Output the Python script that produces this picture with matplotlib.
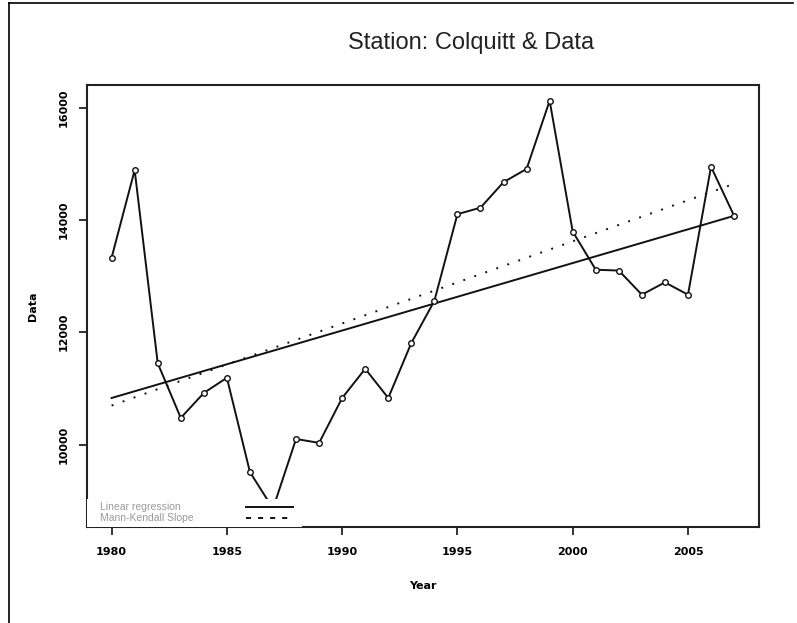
import matplotlib
matplotlib.use("Agg")
import matplotlib.pyplot as plt
from matplotlib.lines import Line2D
from matplotlib.patches import Rectangle

# values
years = list(range(1980, 2008))
data = [13330, 14890, 11450, 10475, 10920, 11190, 9510, 8860, 10100, 10030,
        10830, 11350, 10830, 11810, 12560, 14105, 14220, 14675, 14910, 16125,
        13795, 13115, 13100, 12670, 12890, 12670, 14950, 14075]

# trend line end points (year, value)
lin_x = [1980, 2007]
lin_y = [10830, 14075]
mk_x = [1980, 2007]
mk_y = [10695, 14645]

yticks = [10000, 12000, 14000, 16000]
xticks = [1980, 1985, 1990, 1995, 2000, 2005]

fig = plt.figure(figsize=(7.97, 6.23), dpi=100)
ax = fig.add_axes([0.1088, 0.1533, 0.9523 - 0.1088, 0.8636 - 0.1533])

ax.plot(years, data, color="#111111", lw=1.4, marker="o", ms=4,
        mfc="white", mec="#111111", mew=1.0, zorder=3)
ax.plot(lin_x, lin_y, color="#111111", lw=1.4, zorder=2)
ax.plot(mk_x, mk_y, color="#111111", lw=1.4, linestyle=(0, (1, 5)), zorder=2)

# R style 4% padding on x
span = years[-1] - years[0]
ax.set_xlim(years[0] - 0.04 * span, years[-1] + 0.04 * span)
ax.set_ylim(8523, 16406)

ax.set_xticks(xticks)
ax.set_yticks(yticks)
ax.set_xticklabels([str(t) for t in xticks], fontsize=8, fontweight="bold")
ax.set_yticklabels([str(t) for t in yticks], fontsize=8, fontweight="bold",
                   rotation=90, va="center")
ax.tick_params(axis="both", direction="out", length=6, width=1.3, color="#222222")
ax.tick_params(axis="x", pad=8)
ax.tick_params(axis="y", pad=7)
for s in ax.spines.values():
    s.set_linewidth(1.5)
    s.set_color("#222222")

ax.set_xlabel("Year", fontsize=8, fontweight="bold", labelpad=17)
ax.set_ylabel("Data", fontsize=8, fontweight="bold", labelpad=15)

fig.text(0.591, 0.931, "Station: Colquitt & Data", ha="center", va="center",
         fontsize=17, family="Liberation Sans", color="#222222")

# legend: white box, gray text, line samples off to the right
ax.add_patch(Rectangle((0.0, 0.0), 0.32, 0.064, transform=ax.transAxes,
                       facecolor="white", edgecolor="none", zorder=4))
ax.text(0.02, 0.046, "Linear regression", transform=ax.transAxes, fontsize=7.5,
        color="#999999", va="center", family="Liberation Sans", zorder=5)
ax.text(0.02, 0.0215, "Mann-Kendall Slope", transform=ax.transAxes, fontsize=7.5,
        color="#999999", va="center", family="Liberation Sans", zorder=5)
ax.add_line(Line2D([0.237, 0.307], [0.046, 0.046], transform=ax.transAxes,
                   color="#111111", lw=1.4, zorder=5))
ax.add_line(Line2D([0.237, 0.307], [0.0215, 0.0215], transform=ax.transAxes,
                   color="#111111", lw=1.4, linestyle=(0, (2.6, 3.6)), zorder=5))

# outer frame of the picture
fig.add_artist(Line2D([0.011, 0.011], [0.0, 0.995], transform=fig.transFigure,
                      color="black", lw=1.2))
fig.add_artist(Line2D([0.011, 0.995], [0.995, 0.995], transform=fig.transFigure,
                      color="black", lw=1.2))

fig.savefig("out.png", dpi=100)
